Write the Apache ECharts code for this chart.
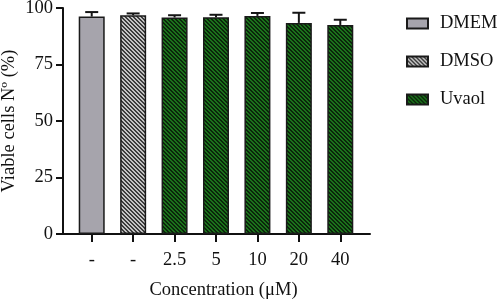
<!DOCTYPE html>
<html>
<head>
<meta charset="utf-8">
<script src="https://cdn.jsdelivr.net/npm/echarts@6/dist/echarts.min.js"></script>
<style>
  html, body { margin: 0; padding: 0; background: #fff; }
  #chart { width: 498px; height: 303px; }
</style>
</head>
<body>
<div id="chart"></div>
<script>
// data
const categories = ['-', '-', '2.5', '5', '10', '20', '40'];
const groups = ['DMEM', 'DMSO', 'Uvaol', 'Uvaol', 'Uvaol', 'Uvaol', 'Uvaol'];
const means = [96.2, 96.8, 95.8, 95.9, 96.5, 93.4, 92.5];
const errs = [2.0, 0.8, 1.0, 1.1, 1.3, 4.5, 2.3];
const seriesNames = ['DMEM', 'DMSO', 'Uvaol'];
const yTicks = [0, 25, 50, 75, 100];

const FONT = '"Liberation Serif", "Times New Roman", serif';
const FS = 18.5;

// diagonal hatch "\" as a small canvas pattern
function hatch(bg, fg) {
  const c = document.createElement('canvas');
  c.width = 4; c.height = 4;
  const ctx = c.getContext('2d');
  ctx.fillStyle = bg;
  ctx.fillRect(0, 0, 4, 4);
  ctx.fillStyle = fg;
  for (let y = 0; y < 4; y++) {
    for (let x = 0; x < 4; x++) {
      if (((x - y) % 4 + 4) % 4 < 2) ctx.fillRect(x, y, 1, 1);
    }
  }
  return { image: c, repeat: 'repeat' };
}

const fills = {
  DMEM: '#a6a4ac',
  DMSO: hatch('#c4c4c4', '#3c3c3c'),
  Uvaol: hatch('#1b721b', '#0b260b')
};

let myChart = echarts.init(document.getElementById('chart'));

const barSeries = seriesNames.map(name => ({
  name: name,
  type: 'bar',
  xAxisIndex: 1,
  yAxisIndex: 1,
  barWidth: 26,
  barGap: '-100%',
  itemStyle: { color: fills[name], borderColor: '#1a1a1a', borderWidth: 1.5 },
  data: means.map((v, i) => groups[i] === name ? v : '-')
}));

const errSeries = {
  type: 'custom',
  xAxisIndex: 1,
  yAxisIndex: 1,
  z: 5,
  data: means.map((v, i) => [i, v, v + errs[i]]),
  renderItem: function (params, api) {
    const base = api.coord([api.value(0), api.value(1)]);
    const top = api.coord([api.value(0), api.value(2)]);
    const half = 6.5;
    const style = { stroke: '#151515', lineWidth: 2 };
    return {
      type: 'group',
      children: [
        { type: 'line', shape: { x1: base[0], y1: base[1], x2: top[0], y2: top[1] }, style: style },
        { type: 'line', shape: { x1: top[0] - half, y1: top[1], x2: top[0] + half, y2: top[1] }, style: style }
      ]
    };
  }
};

myChart.setOption({
  animation: false,
  textStyle: { fontFamily: FONT },
  grid: [
    { left: 63, right: 128, top: 8, bottom: 69, outerBoundsMode: 'none' },
    { left: 71, right: 137, top: 8, bottom: 69, outerBoundsMode: 'none' }
  ],
  legend: {
    orient: 'vertical',
    left: 406,
    top: 14,
    padding: 0,
    itemWidth: 21,
    itemHeight: 10,
    itemGap: 19,
    icon: 'rect',
    data: seriesNames,
    textStyle: { fontFamily: FONT, fontSize: FS, color: '#111', lineHeight: 19, padding: [0, 0, 0, 7] }
  },
  xAxis: [
    {
      type: 'value', gridIndex: 0, min: 0, max: 1,
      axisLine: { show: true, lineStyle: { color: '#111', width: 2 } },
      axisTick: { show: false }, axisLabel: { show: false }, splitLine: { show: false },
      name: 'Concentration (μM)',
      nameLocation: 'middle',
      nameGap: 47,
      nameTextStyle: { fontFamily: FONT, fontSize: FS, color: '#111', padding: [0, 0, 0, 14] }
    },
    {
      type: 'category', gridIndex: 1, data: categories,
      axisLine: { show: false },
      axisTick: { show: true, alignWithLabel: true, length: 8, lineStyle: { color: '#111', width: 2 } },
      axisLabel: { fontFamily: FONT, fontSize: FS, color: '#111', margin: 17 }
    }
  ],
  yAxis: [
    {
      type: 'value', gridIndex: 0, min: yTicks[0], max: yTicks[yTicks.length - 1], interval: 25,
      axisLine: { show: true, lineStyle: { color: '#111', width: 2 } },
      axisTick: { show: true, length: 7, lineStyle: { color: '#111', width: 2 } },
      axisLabel: { fontFamily: FONT, fontSize: FS, color: '#111', margin: 10 },
      splitLine: { show: false },
      name: 'Viable cells Nº (%)',
      nameLocation: 'middle',
      nameMoveOverlap: false,
      nameGap: 44,
      nameTextStyle: { fontFamily: FONT, fontSize: FS, color: '#111' }
    },
    { type: 'value', gridIndex: 1, min: 0, max: 100, show: false }
  ],
  series: barSeries.concat([errSeries])
});
</script>
</body>
</html>
